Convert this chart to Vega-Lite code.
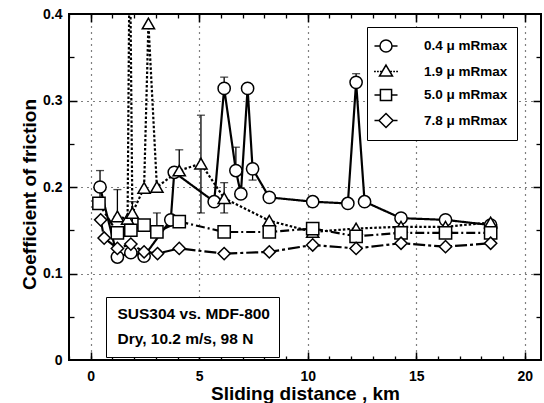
{
  "$schema": "https://vega.github.io/schema/vega-lite/v6.json",
  "width": 472,
  "height": 346,
  "autosize": {"type": "none"},
  "padding": {"left": 69, "top": 14, "right": 3, "bottom": 43},
  "background": "white",
  "config": {
    "view": {"stroke": "black", "strokeWidth": 2},
    "font": "Liberation Sans",
    "axis": {
      "labelFont": "Liberation Sans", "labelFontWeight": "bold", "labelColor": "black",
      "titleFont": "Liberation Sans", "titleFontWeight": "bold", "titleColor": "black",
      "domainColor": "black", "tickColor": "black", "gridColor": "black"
    },
    "legend": {"labelFont": "Liberation Sans", "labelFontWeight": "bold", "labelColor": "black"}
  },
  "datasets": {
    "pts": [
      {"s": "0.4 μ mRmax", "km": 0.43, "cof": 0.200},
      {"s": "0.4 μ mRmax", "km": 1.23, "cof": 0.119},
      {"s": "0.4 μ mRmax", "km": 1.85, "cof": 0.124},
      {"s": "0.4 μ mRmax", "km": 2.46, "cof": 0.120},
      {"s": "0.4 μ mRmax", "km": 3.69, "cof": 0.162},
      {"s": "0.4 μ mRmax", "km": 3.85, "cof": 0.217},
      {"s": "0.4 μ mRmax", "km": 5.69, "cof": 0.183},
      {"s": "0.4 μ mRmax", "km": 6.15, "cof": 0.314},
      {"s": "0.4 μ mRmax", "km": 6.69, "cof": 0.219},
      {"s": "0.4 μ mRmax", "km": 6.92, "cof": 0.192},
      {"s": "0.4 μ mRmax", "km": 7.23, "cof": 0.314},
      {"s": "0.4 μ mRmax", "km": 7.46, "cof": 0.221},
      {"s": "0.4 μ mRmax", "km": 8.23, "cof": 0.188},
      {"s": "0.4 μ mRmax", "km": 10.23, "cof": 0.183},
      {"s": "0.4 μ mRmax", "km": 11.85, "cof": 0.181},
      {"s": "0.4 μ mRmax", "km": 12.23, "cof": 0.321},
      {"s": "0.4 μ mRmax", "km": 12.62, "cof": 0.183},
      {"s": "0.4 μ mRmax", "km": 14.3, "cof": 0.164},
      {"s": "0.4 μ mRmax", "km": 16.35, "cof": 0.162},
      {"s": "0.4 μ mRmax", "km": 18.43, "cof": 0.156},
      {"s": "1.9 μ mRmax", "km": 1.23, "cof": 0.166},
      {"s": "1.9 μ mRmax", "km": 1.7, "cof": 0.163},
      {"s": "1.9 μ mRmax", "km": 1.8, "cof": 0.5},
      {"s": "1.9 μ mRmax", "km": 1.92, "cof": 0.170},
      {"s": "1.9 μ mRmax", "km": 2.46, "cof": 0.199},
      {"s": "1.9 μ mRmax", "km": 2.66, "cof": 0.389},
      {"s": "1.9 μ mRmax", "km": 3.05, "cof": 0.200},
      {"s": "1.9 μ mRmax", "km": 4.08, "cof": 0.219},
      {"s": "1.9 μ mRmax", "km": 5.08, "cof": 0.227},
      {"s": "1.9 μ mRmax", "km": 6.15, "cof": 0.187},
      {"s": "1.9 μ mRmax", "km": 8.23, "cof": 0.161},
      {"s": "1.9 μ mRmax", "km": 10.23, "cof": 0.148},
      {"s": "1.9 μ mRmax", "km": 12.23, "cof": 0.152},
      {"s": "1.9 μ mRmax", "km": 14.3, "cof": 0.154},
      {"s": "1.9 μ mRmax", "km": 16.35, "cof": 0.154},
      {"s": "1.9 μ mRmax", "km": 18.43, "cof": 0.159},
      {"s": "5.0 μ mRmax", "km": 0.38, "cof": 0.181},
      {"s": "5.0 μ mRmax", "km": 1.23, "cof": 0.147},
      {"s": "5.0 μ mRmax", "km": 1.85, "cof": 0.150},
      {"s": "5.0 μ mRmax", "km": 2.46, "cof": 0.156},
      {"s": "5.0 μ mRmax", "km": 3.05, "cof": 0.148},
      {"s": "5.0 μ mRmax", "km": 4.08, "cof": 0.160},
      {"s": "5.0 μ mRmax", "km": 6.15, "cof": 0.148},
      {"s": "5.0 μ mRmax", "km": 8.23, "cof": 0.148},
      {"s": "5.0 μ mRmax", "km": 10.23, "cof": 0.152},
      {"s": "5.0 μ mRmax", "km": 12.23, "cof": 0.143},
      {"s": "5.0 μ mRmax", "km": 14.3, "cof": 0.147},
      {"s": "5.0 μ mRmax", "km": 16.35, "cof": 0.147},
      {"s": "5.0 μ mRmax", "km": 18.43, "cof": 0.147},
      {"s": "7.8 μ mRmax", "km": 0.46, "cof": 0.162},
      {"s": "7.8 μ mRmax", "km": 0.62, "cof": 0.141},
      {"s": "7.8 μ mRmax", "km": 1.23, "cof": 0.129},
      {"s": "7.8 μ mRmax", "km": 1.85, "cof": 0.134},
      {"s": "7.8 μ mRmax", "km": 2.46, "cof": 0.125},
      {"s": "7.8 μ mRmax", "km": 3.08, "cof": 0.123},
      {"s": "7.8 μ mRmax", "km": 4.08, "cof": 0.129},
      {"s": "7.8 μ mRmax", "km": 6.15, "cof": 0.123},
      {"s": "7.8 μ mRmax", "km": 8.23, "cof": 0.125},
      {"s": "7.8 μ mRmax", "km": 10.23, "cof": 0.133},
      {"s": "7.8 μ mRmax", "km": 12.23, "cof": 0.129},
      {"s": "7.8 μ mRmax", "km": 14.3, "cof": 0.135},
      {"s": "7.8 μ mRmax", "km": 16.35, "cof": 0.131},
      {"s": "7.8 μ mRmax", "km": 18.43, "cof": 0.135}
    ],
    "errs": [
      {"km": 0.43, "lo": 0.182, "hi": 0.219},
      {"km": 1.23, "lo": 0.166, "hi": 0.197},
      {"km": 1.92, "lo": 0.145, "hi": 0.183},
      {"km": 3.05, "lo": 0.148, "hi": 0.170},
      {"km": 4.08, "lo": 0.219, "hi": 0.243},
      {"km": 5.08, "lo": 0.170, "hi": 0.283},
      {"km": 6.15, "lo": 0.314, "hi": 0.327},
      {"km": 6.15, "lo": 0.170, "hi": 0.205},
      {"km": 6.69, "lo": 0.219, "hi": 0.246},
      {"km": 7.46, "lo": 0.208, "hi": 0.221},
      {"km": 12.23, "lo": 0.321, "hi": 0.331}
    ],
    "series": [
      {"s": "0.4 μ mRmax"}, {"s": "1.9 μ mRmax"}, {"s": "5.0 μ mRmax"}, {"s": "7.8 μ mRmax"}
    ],
    "notes": [
      {"note": "SUS304 vs. MDF-800"}, {"note": "Dry, 10.2 m/s, 98 N"}
    ]
  },
  "layer": [
    {
      "data": {"name": "errs"},
      "mark": {"type": "rule", "color": "black", "strokeWidth": 1.3},
      "encoding": {
        "x": {"field": "km", "type": "quantitative", "scale": {"domain": [-1, 20.75], "nice": false, "zero": false},
          "axis": {"orient": "bottom", "values": [0, 5, 10, 15, 20], "grid": true, "gridDash": [1, 5], "gridWidth": 1.2,
            "ticks": false, "domain": false, "labelFontSize": 14, "labelPadding": 9,
            "title": "Sliding distance , km", "titleFontSize": 19, "titlePadding": 1}},
        "y": {"field": "lo", "type": "quantitative", "scale": {"domain": [0, 0.4], "nice": false},
          "axis": {"orient": "left", "values": [0, 0.1, 0.2, 0.3, 0.4], "grid": true, "gridDash": [1, 5], "gridWidth": 1.2,
            "ticks": false, "domain": false, "labelFontSize": 14, "labelPadding": 7,
            "labelExpr": "datum.value == 0 ? '0' : format(datum.value, '.1f')",
            "title": "Coefficient of friction", "titleFontSize": 19, "titlePadding": 3, "titleY": 180}},
        "y2": {"field": "hi"}
      }
    },
    {
      "data": {"name": "errs"},
      "mark": {"type": "tick", "orient": "horizontal", "color": "black", "size": 8, "thickness": 1.3},
      "encoding": {
        "x": {"field": "km", "type": "quantitative",
          "axis": {"orient": "bottom", "values": [-1,0,1,2,3,4,5,6,7,8,9,10,11,12,13,14,15,16,17,18,19,20], "tickSize": -4, "tickWidth": 1.3,
            "labels": false, "domain": false, "grid": false, "title": null}},
        "y": {"field": "hi", "type": "quantitative",
          "axis": {"orient": "left", "values": [0.05, 0.15, 0.25, 0.35], "tickSize": -5, "tickWidth": 1.3,
            "labels": false, "domain": false, "grid": false, "title": null}}
      }
    },
    {
      "data": {"name": "errs"},
      "mark": {"type": "tick", "orient": "horizontal", "color": "black", "size": 8, "thickness": 1.3},
      "encoding": {
        "x": {"field": "km", "type": "quantitative",
          "axis": {"orient": "bottom", "values": [0, 5, 10, 15, 20], "tickSize": -8, "tickWidth": 1.5,
            "labels": false, "domain": false, "grid": false, "title": null}},
        "y": {"field": "lo", "type": "quantitative",
          "axis": {"orient": "left", "values": [0.1, 0.2, 0.3], "tickSize": -8, "tickWidth": 1.5,
            "labels": false, "domain": false, "grid": false, "title": null}}
      }
    },
    {
      "data": {"name": "pts"},
      "mark": {"type": "line", "color": "black", "strokeWidth": 2.2, "clip": true},
      "encoding": {
        "x": {"field": "km", "type": "quantitative",
          "axis": {"orient": "top", "values": [0, 5, 10, 15, 20], "tickSize": -8, "tickWidth": 1.5,
            "labels": false, "domain": false, "grid": false, "title": null}},
        "y": {"field": "cof", "type": "quantitative",
          "axis": {"orient": "right", "values": [0.1, 0.2, 0.3], "tickSize": -8, "tickWidth": 1.5,
            "labels": false, "domain": false, "grid": false, "title": null}},
        "strokeDash": {"field": "s", "type": "nominal",
          "scale": {"domain": ["0.4 μ mRmax", "1.9 μ mRmax", "5.0 μ mRmax", "7.8 μ mRmax"],
            "range": [[1, 0], [2.5, 2], [9, 3, 2, 3], [12, 3, 3, 3]]},
          "legend": null}
      }
    },
    {
      "data": {"name": "pts"},
      "mark": {"type": "point", "filled": true, "fill": "white", "stroke": "black", "strokeWidth": 1.5, "size": 150, "opacity": 1, "clip": true},
      "encoding": {
        "x": {"field": "km", "type": "quantitative",
          "axis": {"orient": "top", "values": [-1,0,1,2,3,4,5,6,7,8,9,10,11,12,13,14,15,16,17,18,19,20], "tickSize": -4, "tickWidth": 1.3,
            "labels": false, "domain": false, "grid": false, "title": null}},
        "y": {"field": "cof", "type": "quantitative",
          "axis": {"orient": "right", "values": [0.05, 0.15, 0.25, 0.35], "tickSize": -5, "tickWidth": 1.3,
            "labels": false, "domain": false, "grid": false, "title": null}},
        "shape": {"field": "s", "type": "nominal",
          "scale": {"domain": ["0.4 μ mRmax", "1.9 μ mRmax", "5.0 μ mRmax", "7.8 μ mRmax"],
            "range": ["circle", "triangle-up", "square", "diamond"]},
          "legend": null}
      }
    },
    {
      "data": {"name": "series"},
      "transform": [{"filter": "false"}],
      "mark": {"type": "point", "filled": false, "color": "black", "strokeWidth": 1.5},
      "encoding": {
        "shape": {"field": "s", "type": "nominal",
          "scale": {"domain": ["0.4 μ mRmax", "1.9 μ mRmax", "5.0 μ mRmax", "7.8 μ mRmax"],
            "range": [
              "M-1.28,0L-0.67,0M0.67,0L1.28,0M-0.67,0A0.67,0.67,0,1,1,0.67,0A0.67,0.67,0,1,1,-0.67,0Z",
              "M-1.33,0L-1.13,0M-1.0,0L-0.8,0M-0.67,0L-0.47,0M0.47,0L0.67,0M0.8,0L1.0,0M1.13,0L1.33,0M0,-0.72L0.72,0.5L-0.72,0.5Z",
              "M-1.28,0L-0.62,0M0.62,0L1.28,0M-0.62,-0.62L0.62,-0.62L0.62,0.62L-0.62,0.62Z",
              "M-1.28,0L-0.78,0M0.78,0L1.28,0M0,-0.78L0.78,0L0,0.78L-0.78,0Z"
            ]},
          "legend": {"title": null, "orient": "none", "legendX": 298, "legendY": 13, "padding": 9,
            "strokeColor": "black", "fillColor": "white",
            "symbolSize": 324, "symbolStrokeWidth": 1.5, "symbolStrokeColor": "black", "symbolOpacity": 1,
            "labelFontSize": 13.5, "labelOffset": 28, "rowPadding": 5.5, "labelLimit": 200,
            "encode": {
              "legend": {"update": {"strokeWidth": {"value": 1.5}}},
              "symbols": {"update": {"stroke": {"value": "black"}, "strokeWidth": {"value": 1.5}, "opacity": {"value": 1}, "strokeOpacity": {"value": 1}}}
            }}}
      }
    },
    {
      "data": {"name": "notes"},
      "transform": [{"filter": "false"}],
      "mark": {"type": "point"},
      "encoding": {
        "color": {"field": "note", "type": "nominal",
          "scale": {"domain": ["SUS304 vs. MDF-800", "Dry, 10.2 m/s, 98 N"], "range": ["black", "black"]},
          "legend": {"title": null, "orient": "none", "legendX": 37, "legendY": 283, "padding": 9,
            "strokeColor": "black", "fillColor": "white",
            "symbolSize": 1, "symbolOpacity": 0, "labelFontSize": 15.5, "labelOffset": -13, "rowPadding": 8.5, "labelLimit": 300,
            "encode": {"legend": {"update": {"strokeWidth": {"value": 1.5}}}}}}
      }
    }
  ],
  "resolve": {
    "scale": {"shape": "independent", "color": "independent"},
    "axis": {"x": "independent", "y": "independent"}
  }
}
